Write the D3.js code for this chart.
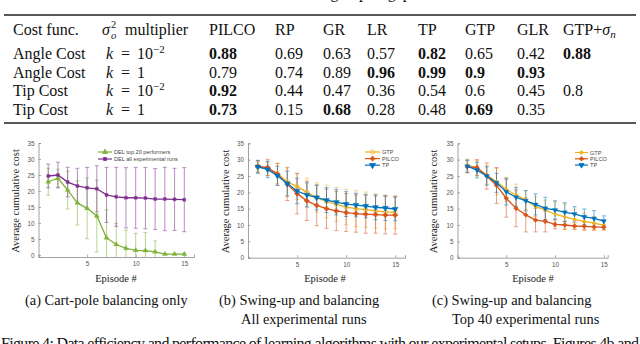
<!DOCTYPE html>
<html>
<head>
<meta charset="utf-8">
<script src="https://cdn.jsdelivr.net/npm/d3@7"></script>
<style>
  html, body { margin: 0; padding: 0; background: #fff; }
  svg { display: block; }
</style>
</head>
<body>
<svg width="640" height="344"></svg>
<script>
// ---- table data ----
const methods = ["PILCO", "RP", "GR", "LR", "TP", "GTP", "GLR", "GTP+"];
const costNames = ["Angle Cost", "Angle Cost", "Tip Cost", "Tip Cost"];
const kExp = ["−2", null, "−2", null];
const tableValues = [
  ["0.88", "0.69", "0.63", "0.57", "0.82", "0.65", "0.42", "0.88"],
  ["0.79", "0.74", "0.89", "0.96", "0.99", "0.9", "0.93", ""],
  ["0.92", "0.44", "0.47", "0.36", "0.54", "0.6", "0.45", "0.8"],
  ["0.73", "0.15", "0.68", "0.28", "0.48", "0.69", "0.35", ""]
];
const tableBold = [
  [1, 0, 0, 0, 1, 0, 0, 1],
  [0, 0, 0, 1, 1, 1, 1, 0],
  [1, 0, 0, 0, 0, 0, 0, 0],
  [1, 0, 1, 0, 0, 1, 0, 0]
];

// ---- plot data ----
const episodes = [1, 2, 3, 4, 5, 6, 7, 8, 9, 10, 11, 12, 13, 14, 15];
const yTicks = [0, 5, 10, 15, 20, 25, 30, 35];
const xTicks = [5, 10, 15];

const delTopMean = [22.9, 24.0, 20.3, 16.3, 14.6, 12.2, 5.4, 3.3, 2.1, 1.5, 1.4, 1.0, 0.3, 0.3, 0.3];
const delTopErr  = [4.2, 2.8, 5.9, 6.9, 9.5, 11.2, 8.7, 6.6, 5.7, 5.3, 5.6, 3.4, 0.2, 0.2, 0.2];
const delAllMean = [24.7, 25.0, 22.8, 21.6, 21.0, 20.7, 18.8, 18.2, 17.9, 17.9, 17.8, 17.5, 17.5, 17.4, 17.3];
const delAllErr  = [3.7, 4.0, 4.6, 5.5, 6.4, 7.2, 8.6, 9.2, 9.4, 9.5, 9.6, 9.5, 9.9, 9.7, 10.0];

const bGtpMean   = [27.8, 27.2, 25.8, 23.2, 21.8, 20.0, 18.4, 17.2, 16.3, 15.5, 15.0, 14.7, 14.3, 14.0, 13.9];
const bGtpErr    = [1.5, 2.0, 3.0, 4.5, 4.0, 4.3, 4.5, 5.0, 5.2, 5.4, 5.5, 5.4, 5.2, 5.2, 5.0];
const bPilcoMean = [27.9, 27.6, 25.5, 22.5, 19.6, 17.4, 16.0, 15.0, 14.3, 13.8, 13.5, 13.3, 13.2, 13.0, 13.0];
const bPilcoErr  = [1.8, 2.5, 3.4, 5.0, 6.2, 6.0, 6.2, 6.0, 6.0, 5.8, 5.7, 5.8, 5.7, 5.7, 5.8];
const bTpMean    = [27.8, 27.0, 25.1, 22.7, 20.4, 19.2, 18.4, 17.6, 17.0, 16.4, 16.1, 15.8, 15.4, 15.2, 14.9];
const bTpErr     = [2.0, 2.5, 2.9, 3.8, 3.9, 3.7, 3.8, 3.8, 3.9, 3.8, 3.6, 3.6, 3.8, 3.8, 3.6];

const cGtpMean   = [28.3, 27.4, 25.3, 23.3, 20.9, 19.2, 17.6, 15.6, 14.6, 13.3, 12.5, 11.7, 11.1, 10.6, 10.0];
const cGtpErr    = [1.8, 2.4, 2.8, 4.0, 3.7, 3.3, 3.0, 3.0, 3.0, 3.8, 3.9, 3.0, 2.5, 2.0, 1.5];
const cPilcoMean = [27.8, 27.6, 25.0, 22.1, 18.2, 15.1, 13.1, 11.5, 11.1, 10.2, 10.0, 9.7, 9.6, 9.4, 9.3];
const cPilcoErr  = [1.9, 2.4, 4.0, 5.5, 5.8, 5.6, 5.2, 3.6, 3.2, 1.4, 1.2, 1.0, 1.2, 1.0, 0.8];
const cTpMean    = [28.0, 26.8, 25.0, 22.9, 20.2, 18.5, 17.4, 16.3, 15.1, 14.6, 13.9, 13.4, 12.5, 12.0, 11.2];
const cTpErr     = [1.9, 2.4, 2.8, 2.9, 4.1, 3.0, 3.1, 3.2, 3.4, 2.8, 2.9, 2.2, 2.4, 2.4, 1.6];

const SERIF = "'Liberation Serif', 'Times New Roman', serif";
const SANS = "'Liberation Sans', Arial, sans-serif";
const C = { green: "#7fb236", purple: "#7e2f8e", yellow: "#edb120", red: "#d95319", blue: "#0072bd" };

const svg = d3.select("svg");

// ---------- table ----------
const tbl = svg.append("g").attr("font-family", SERIF).attr("font-size", 16).attr("fill", "#111");
const colX = [209, 275, 323, 367, 418, 465, 517, 563];
const headY = 34.5, rowY = [59, 77.5, 96, 115];

// caption line above the table, cut off by the top edge (only descenders show)
tbl.append("text").attr("x", 318).attr("y", -2.5).text("ing to pair gap");

tbl.append("line").attr("x1", 4).attr("x2", 636).attr("y1", 15).attr("y2", 15)
  .attr("stroke", "#222").attr("stroke-width", 1.4);
tbl.append("line").attr("x1", 4).attr("x2", 636).attr("y1", 123).attr("y2", 123)
  .attr("stroke", "#222").attr("stroke-width", 1.4);

tbl.append("text").attr("x", 13).attr("y", headY).text("Cost func.");
tbl.append("text").attr("x", 102).attr("y", headY).attr("font-style", "italic").text("σ");
tbl.append("text").attr("x", 111).attr("y", headY - 6.5).attr("font-size", 10.5).text("2");
tbl.append("text").attr("x", 111).attr("y", headY + 4).attr("font-size", 10.5).attr("font-style", "italic").text("o");
tbl.append("text").attr("x", 125).attr("y", headY).text("multiplier");

methods.forEach((m, i) => {
  const t = tbl.append("text").attr("x", colX[i]).attr("y", headY).text(m);
  if (m === "GTP+") {
    t.append("tspan").attr("font-style", "italic").text("σ");
    t.append("tspan").attr("font-style", "italic").attr("font-size", 11).attr("dy", 3).text("n");
  }
});

rowY.forEach((y, r) => {
  tbl.append("text").attr("x", 13).attr("y", y).text(costNames[r]);
  tbl.append("text").attr("x", 106).attr("y", y).attr("font-style", "italic").text("k");
  tbl.append("text").attr("x", 121).attr("y", y).text("=");
  if (kExp[r]) {
    tbl.append("text").attr("x", 137).attr("y", y).text("10");
    tbl.append("text").attr("x", 153).attr("y", y - 6.5).attr("font-size", 11).text(kExp[r]);
  } else {
    tbl.append("text").attr("x", 137).attr("y", y).text("1");
  }
  tableValues[r].forEach((v, i) => {
    tbl.append("text").attr("x", colX[i]).attr("y", y)
      .attr("font-weight", tableBold[r][i] ? "bold" : "normal").text(v);
  });
});

// ---------- plots ----------
function drawPanel(cfg) {
  const x = d3.scaleLinear().domain(cfg.xDomain).range(cfg.xRange);
  const y = d3.scaleLinear().domain(cfg.yDomain).range(cfg.yRange);
  const g = svg.append("g");
  const clipId = "clip" + cfg.id;
  g.append("clipPath").attr("id", clipId).append("rect")
    .attr("x", cfg.xRange[0]).attr("y", cfg.yRange[1] - 5)
    .attr("width", cfg.xRange[1] - cfg.xRange[0]).attr("height", cfg.yRange[0] - cfg.yRange[1] + 5);

  // axes
  const yAxis = d3.axisLeft(y).tickValues(yTicks).tickSize(-2.5).tickPadding(4);
  const xAxis = d3.axisBottom(x).tickValues(xTicks).tickSize(-2.5).tickPadding(5);
  const ya = g.append("g").attr("transform", `translate(${cfg.xRange[0]},0)`).call(yAxis);
  const xa = g.append("g").attr("transform", `translate(0,${cfg.yRange[0]})`).call(xAxis);
  [ya, xa].forEach(a => {
    a.select(".domain").attr("stroke", "#8a8a8a").attr("stroke-width", 0.8);
    a.selectAll(".tick line").attr("stroke", "#8a8a8a").attr("stroke-width", 0.7);
    a.selectAll(".tick text").attr("fill", "#555").attr("font-size", 6.3).attr("font-family", SANS);
  });

  const plot = g.append("g").attr("clip-path", `url(#${clipId})`);
  const line = d3.line().x((d, i) => x(episodes[i])).y(d => y(d));

  cfg.series.forEach(s => {
    const eb = plot.append("g").attr("stroke", s.color).attr("stroke-width", 1).attr("opacity", 0.55);
    s.mean.forEach((m, i) => {
      const cx = x(episodes[i]), t = y(m + s.err[i]), b = y(m - s.err[i]);
      eb.append("line").attr("x1", cx).attr("x2", cx).attr("y1", t).attr("y2", b);
      eb.append("line").attr("x1", cx - 2).attr("x2", cx + 2).attr("y1", t).attr("y2", t);
      eb.append("line").attr("x1", cx - 2).attr("x2", cx + 2).attr("y1", b).attr("y2", b);
    });
  });
  cfg.series.forEach(s => {
    plot.append("path").datum(s.mean).attr("d", line)
      .attr("fill", "none").attr("stroke", s.color).attr("stroke-width", 1.3);
    plot.selectAll(null).data(s.mean).enter().append("path")
      .attr("transform", (d, i) => `translate(${x(episodes[i])},${y(d)})${s.rot ? " rotate(180)" : ""}`)
      .attr("d", d3.symbol().type(s.symbol).size(s.size))
      .attr("fill", s.open ? "none" : s.color)
      .attr("stroke", s.color).attr("stroke-width", s.open || s.symbol === d3.symbolCross ? 0.8 : 0.3);
  });

  // legend
  const lg = g.append("g").attr("font-family", SANS).attr("font-size", 5.6).attr("fill", "#444");
  cfg.series.forEach((s, i) => {
    const ly = cfg.legend.y + i * cfg.legend.dy;
    lg.append("line").attr("x1", cfg.legend.x).attr("x2", cfg.legend.x + cfg.legend.w)
      .attr("y1", ly).attr("y2", ly).attr("stroke", s.color).attr("stroke-width", 1.2);
    lg.append("path")
      .attr("transform", `translate(${cfg.legend.x + cfg.legend.w / 2},${ly})${s.rot ? " rotate(180)" : ""}`)
      .attr("d", d3.symbol().type(s.symbol).size(s.size))
      .attr("fill", s.open ? "none" : s.color).attr("stroke", s.color).attr("stroke-width", 0.8);
    lg.append("text").attr("x", cfg.legend.x + cfg.legend.w + 2).attr("y", ly + 2).text(s.name);
  });

  // axis titles
  const midY = (cfg.yRange[0] + cfg.yRange[1]) / 2 + 1;
  g.append("text").attr("transform", `translate(${cfg.yLabelX},${midY}) rotate(-90)`)
    .attr("text-anchor", "middle").attr("font-family", SERIF).attr("font-size", 10.5).attr("fill", "#222")
    .text("Average cumulative cost");
  g.append("text").attr("x", cfg.xLabelX).attr("y", 281.5).attr("text-anchor", "middle")
    .attr("font-family", SERIF).attr("font-size", 10.5).attr("fill", "#222").text("Episode #");
}

drawPanel({
  id: "a", xDomain: [0, 16], xRange: [38.5, 194], yDomain: [-0.6, 35], yRange: [257, 143],
  yLabelX: 19, xLabelX: 116,
  legend: { x: 98, y: 152, dy: 7, w: 14 },
  series: [
    { name: "DEL top 20 performers", mean: delTopMean, err: delTopErr, color: C.green, symbol: d3.symbolTriangle, size: 11 },
    { name: "DEL all experimental runs", mean: delAllMean, err: delAllErr, color: C.purple, symbol: d3.symbolSquare, size: 9 }
  ]
});

drawPanel({
  id: "b", xDomain: [0, 16], xRange: [248, 405], yDomain: [0, 35], yRange: [257.7, 143.3],
  yLabelX: 229, xLabelX: 325,
  legend: { x: 365, y: 152, dy: 6.6, w: 15 },
  series: [
    { name: "GTP", mean: bGtpMean, err: bGtpErr, color: C.yellow, symbol: d3.symbolCircle, size: 14, open: true },
    { name: "PILCO", mean: bPilcoMean, err: bPilcoErr, color: C.red, symbol: d3.symbolCross, size: 10 },
    { name: "TP", mean: bTpMean, err: bTpErr, color: C.blue, symbol: d3.symbolTriangle, size: 16, rot: true }
  ]
});

drawPanel({
  id: "c", xDomain: [0, 15.4], xRange: [457.5, 607.7], yDomain: [0, 35], yRange: [257.7, 143.3],
  yLabelX: 437, xLabelX: 533,
  legend: { x: 575, y: 152.5, dy: 6.3, w: 13 },
  series: [
    { name: "GTP", mean: cGtpMean, err: cGtpErr, color: C.yellow, symbol: d3.symbolCircle, size: 8 },
    { name: "PILCO", mean: cPilcoMean, err: cPilcoErr, color: C.red, symbol: d3.symbolCross, size: 8 },
    { name: "TP", mean: cTpMean, err: cTpErr, color: C.blue, symbol: d3.symbolTriangle, size: 12, rot: true }
  ]
});

// ---------- captions ----------
const cap = svg.append("g").attr("font-family", SERIF).attr("font-size", 14.4).attr("fill", "#111");
cap.append("text").attr("x", 25).attr("y", 305).text("(a) Cart-pole balancing only");
cap.append("text").attr("x", 219).attr("y", 305).text("(b) Swing-up and balancing");
cap.append("text").attr("x", 241).attr("y", 324).text("All experimental runs");
cap.append("text").attr("x", 432).attr("y", 305).text("(c) Swing-up and balancing");
cap.append("text").attr("x", 452).attr("y", 324).text("Top 40 experimental runs");
svg.append("text").attr("x", 1).attr("y", 348.5).attr("font-family", SERIF).attr("font-size", 16)
  .attr("fill", "#111").attr("textLength", 638).attr("lengthAdjust", "spacing")
  .text("Figure 4: Data efficiency and performance of learning algorithms with our experimental setups. Figures 4b and");
</script>
</body>
</html>
